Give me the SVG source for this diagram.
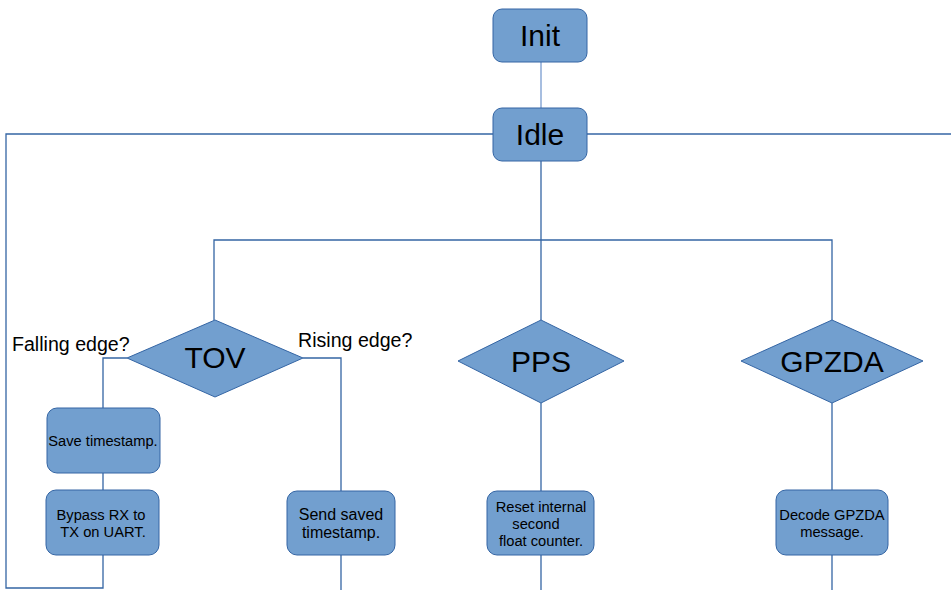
<svg xmlns="http://www.w3.org/2000/svg" width="951" height="590" viewBox="0 0 951 590">
<style>
.n{fill:#729fcf;stroke:#3465a4;stroke-width:1}
.t{font-family:"Liberation Sans",Arial,sans-serif;fill:#000;text-anchor:middle}
.l{font-family:"Liberation Sans",Arial,sans-serif;fill:#000;text-anchor:start;font-size:19.6px}
.b{font-size:30px}
.s{font-size:14.7px}
.c{fill:none;stroke:#3465a4;stroke-width:1.3}
.cl{fill:none;stroke:#8aa9d6;stroke-width:1.5}
</style>
<rect width="951" height="590" fill="#fff"/>
<g id="connectors">
<line class="cl" x1="541" y1="62" x2="541" y2="108"/>
<polyline class="c" points="493,134 6,134 6,588 103,588 103,555"/>
<line class="c" x1="587" y1="134" x2="951" y2="134"/>
<line class="c" x1="541" y1="161" x2="541" y2="320"/>
<polyline class="c" points="214,320 214,240 832,240 832,320"/>
<polyline class="c" points="127,358 103,358 103,408"/>
<line class="c" x1="103" y1="473" x2="103" y2="490"/>
<polyline class="c" points="303,358 341,358 341,491"/>
<line class="c" x1="341" y1="555" x2="341" y2="590"/>
<line class="c" x1="541" y1="403" x2="541" y2="491"/>
<line class="c" x1="541" y1="555" x2="541" y2="590"/>
<line class="c" x1="832" y1="403" x2="832" y2="490"/>
<line class="c" x1="832" y1="555" x2="832" y2="590"/>
</g>
<g id="init"><rect class="n" x="493" y="9" width="94" height="53" rx="9"/><text class="t b" x="540" y="46">Init</text></g>
<g id="idle"><rect class="n" x="493" y="108" width="94" height="53" rx="9"/><text class="t b" x="540" y="145">Idle</text></g>
<g id="tov"><polygon class="n" points="215,320 303,358 215,397 127,358"/><text class="t b" x="215" y="368">TOV</text></g>
<g id="pps"><polygon class="n" points="541,320 624,361 541,403 458,361"/><text class="t b" x="541" y="372">PPS</text></g>
<g id="gpzda"><polygon class="n" points="832,320 923,361 832,403 741,361"/><text class="t b" x="832" y="372">GPZDA</text></g>
<g id="falling"><text class="l" x="12" y="351">Falling edge?</text></g>
<g id="rising"><text class="l" x="298" y="347">Rising edge?</text></g>
<g id="save"><rect class="n" x="47" y="408" width="113" height="65" rx="10"/><text class="t s" x="103" y="446">Save timestamp.</text></g>
<g id="bypass"><rect class="n" x="46" y="490" width="113" height="65" rx="10"/><text class="t s" x="101" y="520">Bypass RX to</text><text class="t s" x="103" y="537">TX on UART.</text></g>
<g id="send"><rect class="n" x="287" y="491" width="108" height="64" rx="10"/><text class="t" x="341" y="520" style="font-size:16px">Send saved</text><text class="t" x="341" y="538" style="font-size:16px">timestamp.</text></g>
<g id="reset"><rect class="n" x="487" y="491" width="107" height="64" rx="10"/><text class="t s" x="541" y="512">Reset internal</text><text class="t s" x="536" y="529">second</text><text class="t s" x="541" y="546">float counter.</text></g>
<g id="decode"><rect class="n" x="776" y="490" width="112" height="65" rx="10"/><text class="t s" x="832" y="520">Decode GPZDA</text><text class="t s" x="832" y="537">message.</text></g>
</svg>
